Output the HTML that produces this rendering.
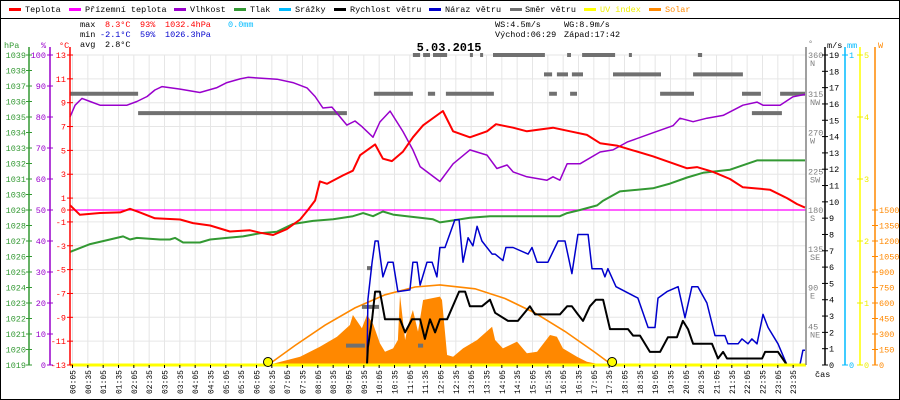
<!DOCTYPE html>
<html><head><meta charset="utf-8"><style>
html,body{margin:0;padding:0;background:#fff;}
svg{display:block;font-family:"Liberation Mono",monospace;}
</style></head><body>
<svg id="chart" width="900" height="400" viewBox="0 0 900 400" xmlns="http://www.w3.org/2000/svg">
<rect x="0.5" y="0.5" width="899" height="399" fill="#fff" stroke="#000"/>
<line x1="0" y1="18.5" x2="900" y2="18.5" stroke="#000"/>
<g id="legend" font-size="8.5">
 <g><rect x="9" y="8" width="12" height="3" fill="#f00"/><text x="25" y="12">Teplota</text></g>
 <g><rect x="69" y="8" width="12" height="3" fill="#f0f"/><text x="85" y="12">Přízemní teplota</text></g>
 <g><rect x="174" y="8" width="12" height="3" fill="#90c"/><text x="190" y="12">Vlhkost</text></g>
 <g><rect x="234" y="8" width="12" height="3" fill="#393"/><text x="250" y="12">Tlak</text></g>
 <g><rect x="279" y="8" width="12" height="3" fill="#0bf"/><text x="295" y="12">Srážky</text></g>
 <g><rect x="334" y="8" width="12" height="3" fill="#000"/><text x="350" y="12">Rychlost větru</text></g>
 <g><rect x="429" y="8" width="12" height="3" fill="#00c"/><text x="445" y="12">Náraz větru</text></g>
 <g><rect x="510" y="8" width="12" height="3" fill="#707070"/><text x="525" y="12">Směr větru</text></g>
 <g><rect x="584" y="8" width="12" height="3" fill="#ff0"/><text x="600" y="12" fill="#ee0">UV index</text></g>
 <g><rect x="649" y="8" width="12" height="3" fill="#f80"/><text x="665" y="12" fill="#f80">Solar</text></g>
</g>
<g id="stats" font-size="8.5">
 <text x="80" y="27">max</text><text x="105" y="27" fill="#f00">8.3°C</text><text x="140" y="27" fill="#f00">93%</text><text x="165" y="27" fill="#f00">1032.4hPa</text><text x="228" y="27" fill="#0bf">0.0mm</text>
 <text x="80" y="37">min</text><text x="100" y="37" fill="#00c">-2.1°C</text><text x="140" y="37" fill="#00c">59%</text><text x="165" y="37" fill="#00c">1026.3hPa</text>
 <text x="80" y="47">avg</text><text x="105" y="47">2.8°C</text>
 <text x="495" y="27">WS:4.5m/s</text><text x="564" y="27">WG:8.9m/s</text>
 <text x="495" y="37">Východ:06:29</text><text x="564" y="37">Západ:17:42</text>
</g>
<g id="grid"></g>
<g id="marks"></g>
<g id="axes"></g>
<text x="449" y="51" text-anchor="middle" font-size="12" font-weight="bold">5.03.2015</text>
</svg>
<script>
// ---- data (time unit: 30px-hours from plot origin) ----
const tempT = [0,0.33,1,1.67,2,2.33,2.83,3.67,4.1,4.67,5.33,6,6.33,6.77,7.23,7.67,7.93,8.17,8.33,8.57,9.1,9.43,9.67,10.17,10.43,10.73,11.1,11.43,11.77,12.43,12.77,13.33,13.9,14.2,14.77,15.23,16.1,16.67,17.23,17.67,18.23,18.77,19.43,20,20.57,20.9,21.43,22,22.43,22.9,23.33,23.9,24.23,24.5];
const tempV = [0.4,-0.4,-0.25,-0.2,0.1,-0.2,-0.7,-0.8,-1.1,-1.3,-1.8,-1.7,-1.9,-2.1,-1.6,-0.8,0,0.8,2.4,2.2,2.9,3.3,4.6,5.5,4.3,4.1,4.9,6.1,7.1,8.3,6.6,6.1,6.6,7.2,6.9,6.6,6.9,6.6,6.3,5.6,5.4,5.0,4.5,4.0,3.5,3.6,3.2,2.6,1.9,1.8,1.7,1.0,0.5,0.2];
const humT = [0,0.17,0.4,0.67,1,1.9,2.23,2.57,2.83,3.07,3.67,4.33,4.9,5.23,5.67,5.93,6.9,7.43,7.9,8.17,8.43,8.73,9.23,9.5,9.73,10.1,10.33,10.67,11.1,11.43,11.67,12.33,12.77,13.33,13.9,14.23,14.57,14.77,15.23,15.9,16.1,16.33,16.57,17,17.67,18.1,18.57,19.43,20.1,20.33,20.77,21.23,21.77,22.43,22.9,23.1,23.67,24.1,24.5];
const humV = [80,83.8,86,85,83.8,83.8,85,86.6,88.7,89.8,89,87.9,89.5,91.1,92.3,92.8,92.2,91.1,89.4,86.6,82.9,83.2,77.4,78.7,76.9,73.5,78.4,81.9,75.3,69.4,64,59.2,64.9,69.4,67.7,63.4,64.5,62.3,60.7,59.6,60.7,59.6,64.9,64.9,68.7,69.4,71.9,74.9,77.2,79.6,78.5,79.6,80.5,83.8,84.8,83.8,83.8,86.5,87.3];
const presT = [0,0.67,1.33,1.77,2,2.23,3,3.33,3.5,3.77,4.33,4.67,5.23,5.77,6.33,6.9,7.43,8.1,8.77,9.43,9.77,10.1,10.43,10.77,11.23,11.67,12.1,12.33,12.67,13.33,14,15,16.33,16.57,17,17.57,17.77,18.33,19.43,20,20.57,21.1,22,22.9,24.5];
const presV = [1026.3,1026.8,1027.1,1027.3,1027.1,1027.2,1027.1,1027.1,1027.2,1026.9,1026.9,1027.1,1027.2,1027.3,1027.5,1027.6,1028.1,1028.3,1028.4,1028.6,1028.8,1028.6,1028.9,1028.7,1028.6,1028.5,1028.4,1028.2,1028.3,1028.5,1028.6,1028.6,1028.6,1028.8,1029.0,1029.3,1029.6,1030.2,1030.4,1030.7,1031.1,1031.4,1031.6,1032.2,1032.2];
const gustT = [0,9.9,9.93,10.07,10.17,10.27,10.43,10.6,10.77,10.93,11.33,11.43,11.57,11.67,11.9,12.07,12.23,12.33,12.5,12.83,12.97,13.1,13.27,13.43,13.57,13.73,14.07,14.17,14.43,14.53,14.77,15.27,15.4,15.57,15.93,16.27,16.5,16.73,16.93,17.27,17.4,17.73,17.83,17.93,18.2,18.93,19.27,19.5,19.6,19.9,20.27,20.5,20.73,20.93,21.23,21.5,21.83,21.93,22.27,22.4,22.6,22.73,22.9,23.1,23.27,23.6,23.9,24.33,24.43,24.5];
const gustV = [0,0,4.0,6.3,7.6,7.6,5.4,6.3,6.3,4.5,4.6,6.3,6.3,4.9,6.3,6.3,5.4,7.2,7.2,8.9,8.9,6.3,7.8,7.3,8.5,7.6,6.8,6.8,6.4,7.2,7.2,6.8,7.2,6.3,6.3,7.6,7.6,5.6,8.0,8.0,5.9,5.9,5.4,5.9,4.8,4.1,2.3,2.3,4.1,4.5,4.8,2.9,4.8,4.8,3.8,1.8,1.8,1.3,1.3,1.6,1.3,1.6,1.3,3.1,2.3,1.3,0,0,0.9,0.9];
const windT = [0,9.9,9.93,10.07,10.17,10.33,10.5,10.6,11,11.17,11.4,11.67,11.83,12,12.17,12.33,12.57,12.97,13.17,13.33,13.73,14,14.17,14.6,14.93,15.33,15.5,16.33,16.57,16.73,16.93,17.1,17.33,17.53,17.77,18,18.6,18.77,19,19.33,19.67,19.93,20.23,20.43,20.6,20.77,21.4,21.6,21.77,21.9,23.07,23.17,23.6,23.9,24.5];
const windV = [0,0,1.1,2.8,4.5,4.5,2.8,2.8,2.8,2.0,2.8,2.8,1.6,2.8,2.0,2.8,2.8,4.5,4.5,3.6,3.6,4.0,3.2,2.7,2.7,3.6,3.1,3.1,3.6,3.6,3.1,2.7,3.6,4.0,4.0,2.2,2.2,1.8,1.8,0.8,0.8,1.7,1.7,2.7,2.2,1.3,1.3,0.4,0.8,0.4,0.4,0.8,0.8,0,0];
const solarT = [6.6,7.67,8.33,8.9,9.33,9.43,9.73,9.9,10.1,10.33,10.5,10.77,10.93,11,11.17,11.27,11.43,11.6,11.77,12.33,12.4,12.57,12.77,13.1,13.57,14.07,14.17,14.43,14.9,15.23,15.57,16,16.23,16.43,16.9,17.23,17.77];
const solarV = [0,80,177,274,387,484,355,484,400,210,129,161,242,678,242,387,532,323,629,662,629,97,80,161,242,371,242,161,226,113,129,290,274,161,80,32,0];
const sunT = [6.6,7.5,8.5,9.5,10.5,11.5,12.33,13.5,14.5,15.5,16.5,17.5,18.07];
const sunV = [0,189,385,553,679,755,775,737,644,503,325,122,0];
const dirStart = [11.43,11.77,12.1,13.33,13.67,14.1,16.57,17.07,18.63,20.93, 15.8,16.23,16.73,18.1,20.77, 0,10.13,11.93,12.53,15.97,16.67,19.67,22.4,23.67, 2.27,22.73, 9.2,9.9,9.73,11.6];
const dirEnd   = [11.67,12,12.57,13.43,13.77,15.83,16.7,18.17,18.73,21.07, 16.07,16.6,17.1,19.7,22.43, 2.27,11.43,12.17,14.13,16.23,16.9,20.8,23.03,24.5, 9.23,23.73, 9.83,10.07,10.3,11.77];
const dirDeg   = [360,360,360,360,360,360,360,360,360,360, 337.5,337.5,337.5,337.5,337.5, 315,315,315,315,315,315,315,315,315, 292.5,292.5, 22.5,112.5,67.5,22.5];
const timeLabels = ["00:05","00:35","01:05","01:35","02:05","02:35","03:05","03:35","04:05","04:35","05:05","05:35","06:05","06:35","07:05","07:35","08:05","08:35","09:05","09:35","10:05","10:35","11:05","11:35","12:05","12:35","13:05","13:35","14:05","14:35","15:05","15:35","16:05","16:35","17:05","17:35","18:05","18:35","19:05","19:35","20:05","20:35","21:05","21:35","22:05","22:35","23:05","23:35"];
const sunriseT = 6.6, sunsetT = 18.07;

// ---- scales ----
const L=70,R=806,TOP=55,BOT=365;
const x = h => L + h*30;
const yT = v => TOP + (13-v)*(BOT-TOP)/26;
const yH = v => BOT - v*3.1;
const yP = v => BOT - (v-1019)*15.5;
const yW = v => BOT - v*(BOT-TOP)/19;
const yD = v => BOT - v*(BOT-TOP)/360;
const yS = v => BOT - v*(BOT-TOP)/1500*0.5;
const yUV = v => BOT - v*62;
const NS="http://www.w3.org/2000/svg";
function mk(tag,attrs,parent){const e=document.createElementNS(NS,tag);for(const k in attrs)e.setAttribute(k,attrs[k]);parent.appendChild(e);return e;}
const grid=document.getElementById('grid'), marks=document.getElementById('marks'), axes=document.getElementById('axes');

for(let k=0;k<timeLabels.length;k++){const gx=72.5+15.333*k;
 const g=mk('line',{x1:gx,y1:TOP,x2:gx,y2:BOT,stroke:'#e6e6e6'},grid);
 
 }
for(let t=13;t>=-11;t-=2){const g=mk('line',{x1:L,y1:yT(t),x2:R,y2:yT(t),stroke:'#e6e6e6'},grid);
 
 }

function pathStep(ts,vs,ys){let d='';for(let i=0;i<ts.length;i++){d+=(i?'L':'M')+x(ts[i]).toFixed(1)+','+ys(vs[i]).toFixed(1);}return d;}

let sd='M'+x(solarT[0])+','+BOT;
for(let i=0;i<solarT.length;i++) sd+='L'+x(solarT[i]).toFixed(1)+','+yS(solarV[i]).toFixed(1);
sd+='L'+x(solarT[solarT.length-1])+','+BOT+'Z';
const sa=mk('path',{d:sd,fill:'#f80'},marks);


const sc=mk('path',{d:pathStep(sunT,sunV,yS),fill:'none',stroke:'#f80','stroke-width':1.6},marks);



for(let i=0;i<dirDeg.length;i++){
 const r=mk('rect',{x:x(dirStart[i]),y:yD(dirDeg[i])-2,width:Math.max(2,x(dirEnd[i])-x(dirStart[i])),height:4,fill:'#707070'},marks);
 
 }

const mg=mk('line',{x1:L,y1:yT(0),x2:R,y2:yT(0),stroke:'#f0f','stroke-width':1.3},marks);



const lines=[[presT,presV,yP,'#393',2,'pressure-line'],[humT,humV,yH,'#90c',1.5,'humidity-line'],[tempT,tempV,yT,'#f00',2,'temperature-line'],[gustT,gustV,yW,'#00c',1.5,'wind-gust-line'],[windT,windV,yW,'#000',2,'wind-speed-line']];
for(const l of lines){const p=mk('path',{d:pathStep(l[0],l[1],l[2]),fill:'none',stroke:l[3],'stroke-width':l[4],'stroke-linejoin':'round'},marks);
 
 }

const uv=mk('line',{x1:L,y1:BOT,x2:R,y2:BOT,stroke:'#ff0','stroke-width':3},marks);


for(const [t,n] of [[sunriseT,'sunrise-marker'],[sunsetT,'sunset-marker']]){
 const c=mk('circle',{cx:x(t),cy:BOT-3,r:4.5,fill:'#ff0',stroke:'#000','stroke-width':1},marks);
 
 }

function vline(xx,col,name){const a=mk('line',{x1:xx,y1:TOP-8,x2:xx,y2:BOT,stroke:col,'stroke-width':1.5},axes);
 
 }
function txt(s,xx,yy,col,anchor,name,fs){const t=mk('text',{x:xx,y:yy,fill:col,'font-size':fs||8.5,'text-anchor':anchor||'start'},axes);t.textContent=s;
 
 return t;}
vline(29,'#393','pressure-axis');vline(50,'#90c','humidity-axis');vline(70,'#f00','temperature-axis');
vline(806,'#808080','direction-axis');vline(825,'#000','wind-axis');vline(845,'#0bf','rain-axis');vline(860,'#ff0','uv-axis');vline(875,'#f80','solar-axis');
txt('hPa',4,48,'#393','start','pressure-axis-title');txt('%',41,48,'#90c','start','humidity-axis-title');txt('°C',59,48,'#f00','start','temperature-axis-title');
txt('°',808,46,'#808080','start','direction-axis-title');txt('m/s',827,48,'#000','start','wind-axis-title');txt('mm',847,48,'#0bf','start','rain-axis-title');txt('W',878,48,'#f80','start','solar-axis-title');
for(let p=1019;p<=1039;p++){const yy=yP(p);mk('line',{x1:26,y1:yy,x2:32,y2:yy,stroke:'#393'},axes);txt(String(p),26,yy+3,'#393','end','pressure-tick-label');}
for(let h=0;h<=100;h+=10){const yy=yH(h);mk('line',{x1:47,y1:yy,x2:53,y2:yy,stroke:'#90c'},axes);txt(String(h),46,yy+3,'#90c','end','humidity-tick-label');}
for(let t=13;t>=-13;t-=2){const yy=yT(t);mk('line',{x1:67,y1:yy,x2:73,y2:yy,stroke:'#f00'},axes);txt(String(t),66,yy+3,'#f00','end','temperature-tick-label');}
mk('line',{x1:67,y1:yT(0),x2:73,y2:yT(0),stroke:'#f00'},axes);txt('0',66,yT(0)+3,'#f00','end','temperature-tick-label');
const dirNames=['','NE','E','SE','S','SW','W','NW','N'];
for(let k=1;k<=8;k++){const yy=yD(k*45);txt(String(k*45),808,yy+3,'#808080','start','direction-tick-label');txt(dirNames[k],810,yy+11,'#808080','start','direction-name-label');}
for(let w=0;w<=19;w++){const yy=yW(w);mk('line',{x1:822,y1:yy,x2:828,y2:yy,stroke:'#000'},axes);txt(String(w),829,yy+3,'#000','start','wind-tick-label');}
for(const [m,yy] of [[0,BOT],[1,TOP]]){mk('line',{x1:842,y1:yy,x2:848,y2:yy,stroke:'#0bf'},axes);txt(String(m),849,yy+3,'#0bf','start','rain-tick-label');}
for(let u=0;u<=5;u++){const yy=yUV(u);mk('line',{x1:857,y1:yy,x2:863,y2:yy,stroke:'#ee0'},axes);txt(String(u),864,yy+3,'#ee0','start','uv-tick-label');}
for(let s=0;s<=1500;s+=150){const yy=yS(s);mk('line',{x1:872,y1:yy,x2:878,y2:yy,stroke:'#f80'},axes);txt(String(s),879,yy+3,'#f80','start','solar-tick-label');}
for(let k=0;k<timeLabels.length;k++){const gx=72.5+15.333*k;
 mk('line',{x1:gx,y1:BOT,x2:gx,y2:BOT+3,stroke:'#000'},axes);
 const t=txt(timeLabels[k],0,0,'#000','end','time-tick-label',8);
 t.setAttribute('transform','translate('+(gx+3)+','+(BOT+5)+') rotate(-90)');}
txt('čas',815,377,'#000','start','time-axis-title');
</script>
</body></html>
